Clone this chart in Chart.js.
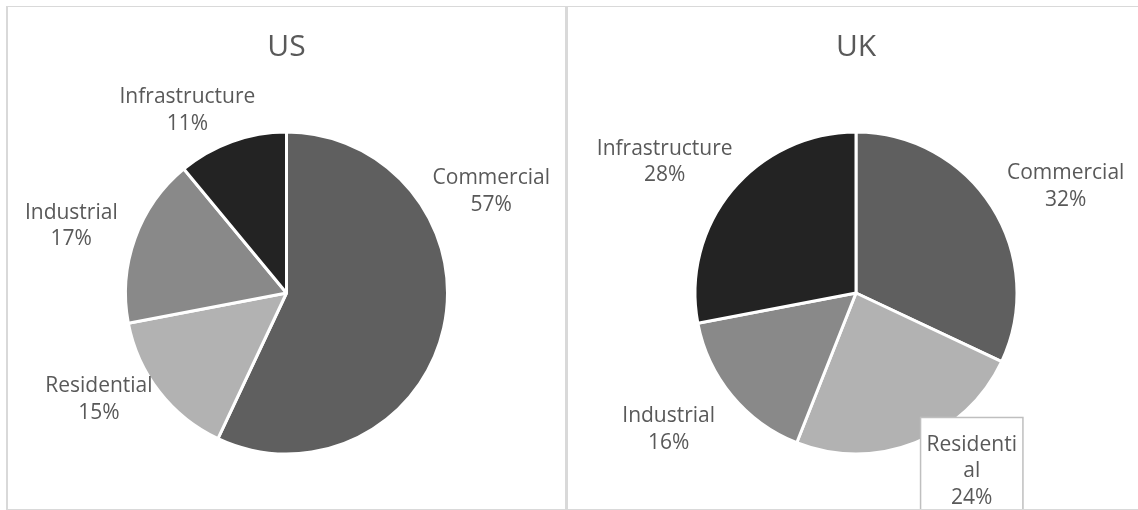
<!DOCTYPE html>
<html>
<head>
<meta charset="utf-8">
<title>Sector split</title>
<script src="https://cdn.jsdelivr.net/npm/chart.js@4.4.1/dist/chart.umd.min.js"></script>
<style>
    html, body { margin: 0; padding: 0; background: #fff; overflow: hidden; }
    body { width: 1138px; height: 510px; position: relative; }
    .panel {
        position: absolute;
        top: 6px;
        height: 504px;
        box-sizing: border-box;
        border: 1px solid #d9d9d9;
        border-left-width: 2px;
    }
    #panelUS { left: 6px; width: 560px; }
    #panelUK { left: 566px; width: 590px; }
    canvas { position: absolute; }
    #chartUS { left: 7px; top: 7px; }
    #chartUK { left: 568px; top: 7px; }
</style>
</head>
<body>
<div class="panel" id="panelUS"></div>
<div class="panel" id="panelUK"></div>
<canvas id="chartUS" width="559" height="502" style="width:559px;height:502px"></canvas>
<canvas id="chartUK" width="576" height="502" style="width:576px;height:502px"></canvas>

<script>
// ===== Sector share by country =====

const sectors = ['Commercial', 'Residential', 'Industrial', 'Infrastructure'];
const usShare = [57, 15, 17, 11];
const ukShare = [32, 24, 16, 28];
const sectorColors = ['#5f5f5f', '#b2b2b2', '#898989', '#232323'];

const FONT = "'Open Sans', 'Noto Sans', sans-serif";
const TEXT_COLOR = '#595959';

// Category name + percentage written outside each slice
const sliceLabels = {
    id: 'sliceLabels',
    afterDatasetsDraw(chart, args, opts) {
        const ctx = chart.ctx;
        const meta = chart.getDatasetMeta(0);
        const values = chart.data.datasets[0].data;
        const total = values.reduce((a, b) => a + b, 0);
        const lineH = opts.lineHeight;

        ctx.save();
        ctx.font = `${opts.size}px ${FONT}`;
        ctx.textAlign = 'center';
        ctx.textBaseline = 'middle';

        meta.data.forEach((arc, i) => {
            const { x, y, outerRadius } = arc.getProps(['x', 'y', 'outerRadius'], true);
            const [deg, dist] = opts.placement[i];
            const a = deg * Math.PI / 180;
            const cx = x + Math.sin(a) * outerRadius * dist;
            const cy = y - Math.cos(a) * outerRadius * dist;

            // long names get broken where the label box is too narrow
            const name = chart.data.labels[i];
            const brk = opts.breakAt ? opts.breakAt[i] : null;
            const lines = brk ? [name.slice(0, brk), name.slice(brk)] : [name];
            lines.push(Math.round(values[i] / total * 100) + '%');

            const top = cy - (lines.length - 1) * lineH / 2;

            if (opts.boxed && opts.boxed[i]) {
                const w = Math.max(...lines.map(l => ctx.measureText(l).width)) + 2 * opts.boxPadX;
                const h = lines.length * lineH + 2 * opts.boxPadY;
                ctx.fillStyle = '#ffffff';
                ctx.strokeStyle = '#bfbfbf';
                ctx.lineWidth = 1.5;
                ctx.fillRect(cx - w / 2, top - lineH / 2 - opts.boxPadY, w, h);
                ctx.strokeRect(cx - w / 2, top - lineH / 2 - opts.boxPadY, w, h);
            }

            ctx.fillStyle = TEXT_COLOR;
            lines.forEach((line, k) => ctx.fillText(line, cx, top + k * lineH));
        });
        ctx.restore();
    }
};

function buildPie(canvasId, title, values, labelOpts) {
    const ctx = document.getElementById(canvasId);
    return new Chart(ctx, {
        type: 'pie',
        data: {
            labels: sectors,
            datasets: [{
                data: values,
                backgroundColor: sectorColors,
                borderColor: '#ffffff',
                borderWidth: 3,
                radius: 161
            }]
        },
        options: {
            responsive: false,
            animation: false,
            layout: {
                padding: { top: 0, bottom: 56, left: 0, right: 0 }
            },
            plugins: {
                legend: { display: false },
                tooltip: { enabled: false },
                title: {
                    display: true,
                    text: title,
                    color: TEXT_COLOR,
                    font: { family: FONT, size: 30, weight: 'normal' },
                    padding: { top: 22, bottom: 68 }
                },
                sliceLabels: Object.assign({
                    size: 21,
                    lineHeight: 26.5,
                    boxPadX: 6,
                    boxPadY: 14
                }, labelOpts)
            }
        },
        plugins: [sliceLabels]
    });
}

// [angle clockwise from 12 o'clock, distance as multiple of radius]
buildPie('chartUS', 'US', usShare, {
    placement: [[63.6, 1.42], [240.4, 1.34], [287.3, 1.40], [331.5, 1.29]]
});

buildPie('chartUK', 'UK', ukShare, {
    placement: [[63.1, 1.46], [147.0, 1.32], [233.9, 1.44], [304.4, 1.44]],
    breakAt: [null, 9, null, null],
    boxed: [false, true, false, false]
});
</script>
</body>
</html>
